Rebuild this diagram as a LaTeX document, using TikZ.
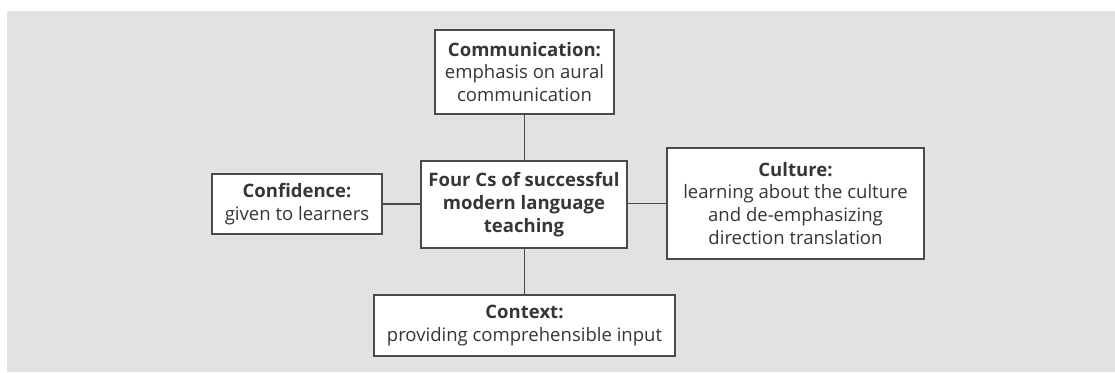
\documentclass[tikz,border=0pt]{standalone}
\usepackage{fontspec}
\setmainfont{Open Sans}
\usepackage{tikz}
\usetikzlibrary{positioning,calc}
\usepackage{xcolor}
\definecolor{panelgray}{HTML}{E2E2E2}
\definecolor{boxborder}{HTML}{4A4A4A}
\definecolor{inkgray}{HTML}{363636}

\begin{document}
\begin{tikzpicture}[
  x=1bp, y=-1bp,
  font=\fontsize{18.6}{23}\selectfont,
  cbox/.style={
    draw=boxborder,
    fill=white,
    line width=1.4pt,
    align=center,
    text=inkgray,
    inner sep=0pt
  },
  link/.style={
    draw=boxborder,
    line width=1.1pt
  }
]

  % --- Panel ---
  \useasboundingbox (0,0) rectangle (1115,372);
  \fill[panelgray] (7,11) rectangle (1115,372);

  % --- Hub ---
  \node[cbox, minimum width=206bp, minimum height=87bp] (hub) at (524,204.5) {
    \textbf{Four Cs of successful}\\
    \textbf{modern language}\\
    \textbf{teaching}
  };

  % --- The four Cs ---
  \node[cbox, minimum width=179bp, minimum height=84bp] (comm) at (524.5,72) {
    \textbf{Communication:}\\
    emphasis on aural\\
    communication
  };
  \node[cbox, minimum width=170bp, minimum height=60bp] (conf) at (297,204) {
    \textbf{Confidence:}\\
    given to learners
  };
  \node[cbox, minimum width=257bp, minimum height=111bp] (cult) at (795.5,203.5) {
    \textbf{Culture:}\\
    learning about the culture\\
    and de-emphasizing\\
    direction translation
  };
  \node[cbox, minimum width=301bp, minimum height=61bp] (ctx) at (524.5,325.5) {
    \textbf{Context:}\\
    providing comprehensible input
  };

  % Connectors
  \draw[link] (comm.south) -- (comm.south |- hub.north);
  \draw[link] (ctx.north |- hub.south) -- (ctx.north);
  \draw[link] (conf.east) -- (conf.east -| hub.west);
  \draw[link] (hub.east |- cult.west) -- (cult.west);

\end{tikzpicture}
\end{document}
